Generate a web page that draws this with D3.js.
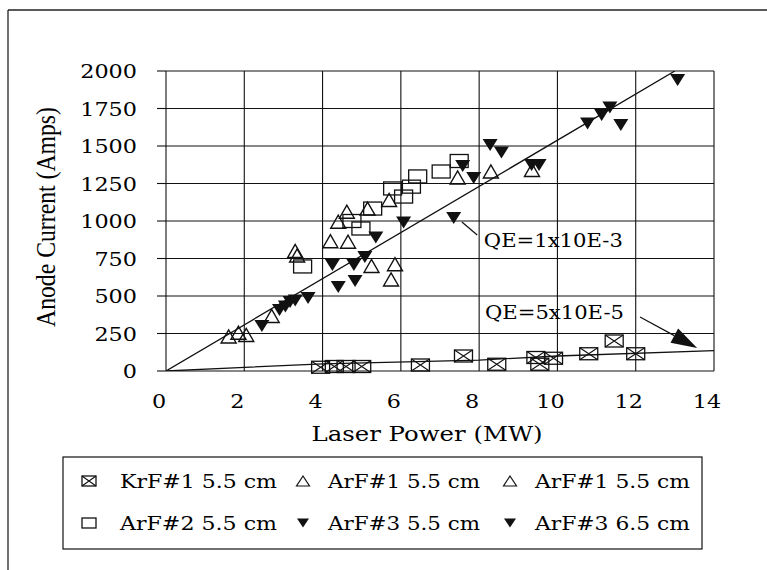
<!DOCTYPE html>
<html><head><meta charset="utf-8">
<script src="https://cdn.jsdelivr.net/npm/d3@7"></script>
<style>body{margin:0;background:#fff} svg{display:block}</style>
</head><body>
<svg id="c" width="767" height="570"></svg>
<script>
// ---- data ----
const xTicks = [0, 2, 4, 6, 8, 10, 12, 14];
const yTicks = [0, 250, 500, 750, 1000, 1250, 1500, 1750, 2000];

const krf1X = [3.95, 4.3, 4.6, 5.0, 6.5, 7.6, 8.45, 9.45, 9.55, 9.9, 10.8, 11.45, 12.0];
const krf1Y = [25, 30, 30, 30, 40, 100, 45, 90, 45, 85, 115, 200, 115];

const arf1aX = [1.6, 2.05, 2.7, 3.3, 4.2, 4.4, 5.15, 5.25, 5.75, 7.45, 9.35];
const arf1aY = [230, 240, 367, 800, 865, 995, 1083, 700, 610, 1290, 1340];

const arf1bX = [1.85, 3.35, 4.65, 4.62, 5.7, 5.85, 8.3];
const arf1bY = [255, 770, 862, 1062, 1140, 712, 1330];

const arf2X = [3.49, 4.75, 4.98, 5.28, 5.79, 6.07, 6.27, 6.43, 7.03, 7.49];
const arf2Y = [697, 1000, 950, 1083, 1217, 1163, 1229, 1297, 1330, 1400];

const arf3aX = [2.45, 2.9, 3.05, 3.17, 3.3, 3.63, 4.25, 4.4, 4.83, 4.8, 5.08, 5.36, 6.07];
const arf3aY = [300, 407, 430, 460, 470, 487, 707, 560, 600, 707, 760, 890, 990];

const arf3bX = [7.35, 7.58, 7.86, 8.28, 8.57, 9.34, 9.53, 10.77, 11.13, 11.34, 11.62, 13.07];
const arf3bY = [1020, 1367, 1287, 1507, 1457, 1373, 1373, 1650, 1707, 1757, 1640, 1940];

const qeHighX = [0, 13];
const qeHighY = [0, 2000];
const qeLowX = [0, 4, 8, 10, 14];
const qeLowY = [0, 48, 73, 100, 136];

const legendLabels = ["KrF#1 5.5 cm", "ArF#1 5.5 cm", "ArF#1 5.5 cm",
                      "ArF#2 5.5 cm", "ArF#3 5.5 cm", "ArF#3 6.5 cm"];
const annotTexts = ["QE=1x10E-3", "QE=5x10E-5"];

// ---- drawing ----
const svg = d3.select("#c");
const x = d3.scaleLinear().domain([0, 14]).range([166, 714]);
const y = d3.scaleLinear().domain([0, 2000]).range([371, 71]);
const SERIF = "'DejaVu Serif', serif";
const TIMES = "'Liberation Serif', 'Times New Roman', serif";

svg.append("rect").attr("width", 767).attr("height", 570).attr("fill", "#fff");

// outer frame (top & left)
svg.append("line").attr("x1", 8).attr("y1", 10).attr("x2", 767).attr("y2", 10)
  .attr("stroke", "#222").attr("stroke-width", 1.3);
svg.append("line").attr("x1", 8).attr("y1", 10).attr("x2", 8).attr("y2", 570)
  .attr("stroke", "#222").attr("stroke-width", 1.3);

// grid
const g = svg.append("g");
g.selectAll(".vg").data(xTicks).join("line")
  .attr("x1", d => x(d)).attr("x2", d => x(d)).attr("y1", y(2000)).attr("y2", y(0))
  .attr("stroke", "#111").attr("stroke-width", 1.1);
g.selectAll(".hg").data(yTicks).join("line")
  .attr("x1", x(0)).attr("x2", x(14)).attr("y1", d => y(d)).attr("y2", d => y(d))
  .attr("stroke", "#111").attr("stroke-width", 1.1);
// y ticks outside
g.selectAll(".yt").data(yTicks).join("line")
  .attr("x1", x(0) - 9).attr("x2", x(0)).attr("y1", d => y(d)).attr("y2", d => y(d))
  .attr("stroke", "#111").attr("stroke-width", 1.1);

// tick labels
svg.selectAll(".ylab").data(yTicks).join("text")
  .attr("x", 137).attr("y", d => y(d) + 7)
  .attr("text-anchor", "end").attr("font-family", SERIF).attr("font-size", 19)
  .attr("textLength", d => String(d).length * 14.2).attr("lengthAdjust", "spacingAndGlyphs")
  .text(d => d);
svg.selectAll(".xlab").data(xTicks).join("text")
  .attr("x", d => x(d) - 7).attr("y", 408)
  .attr("text-anchor", "middle").attr("font-family", SERIF).attr("font-size", 19)
  .attr("textLength", d => String(d).length * 14.2).attr("lengthAdjust", "spacingAndGlyphs")
  .text(d => d);

// axis titles
svg.append("text").attr("x", 427).attr("y", 441).attr("text-anchor", "middle")
  .attr("font-family", SERIF).attr("font-size", 21)
  .attr("textLength", 231).attr("lengthAdjust", "spacingAndGlyphs")
  .text("Laser Power (MW)");
svg.append("text").attr("transform", "translate(55,217) rotate(-90)")
  .attr("text-anchor", "middle").attr("font-family", TIMES).attr("font-size", 27)
  .attr("textLength", 220).attr("lengthAdjust", "spacingAndGlyphs")
  .text("Anode Current (Amps)");

// clip
svg.append("clipPath").attr("id", "clip").append("rect")
  .attr("x", x(0)).attr("y", y(2000)).attr("width", x(14) - x(0)).attr("height", y(0) - y(2000));

// QE lines
const lineGen = d3.line().x(d => x(d[0])).y(d => y(d[1]));
svg.append("path").attr("clip-path", "url(#clip)")
  .attr("d", lineGen(d3.zip(qeHighX, qeHighY))).attr("fill", "none")
  .attr("stroke", "#111").attr("stroke-width", 1.3);
svg.append("path").attr("clip-path", "url(#clip)")
  .attr("d", lineGen(d3.zip(qeLowX, qeLowY))).attr("fill", "none")
  .attr("stroke", "#111").attr("stroke-width", 1.3);

// marker shapes
function triUp(cx, cy, w, h) {
  return `M${cx - w / 2},${cy + h / 2}L${cx + w / 2},${cy + h / 2}L${cx},${cy - h / 2}Z`;
}
function triDown(cx, cy, w, h) {
  return `M${cx - w / 2},${cy - h / 2}L${cx + w / 2},${cy - h / 2}L${cx},${cy + h / 2}Z`;
}
function boxX(sel, cx, cy, w, h) {
  sel.append("rect").attr("x", cx - w / 2).attr("y", cy - h / 2).attr("width", w).attr("height", h)
    .attr("fill", "none").attr("stroke", "#111").attr("stroke-width", 1.3);
  sel.append("path").attr("d", `M${cx - w / 2},${cy - h / 2}L${cx + w / 2},${cy + h / 2}M${cx + w / 2},${cy - h / 2}L${cx - w / 2},${cy + h / 2}`)
    .attr("stroke", "#111").attr("stroke-width", 1.1);
}
function box(sel, cx, cy, w, h) {
  sel.append("rect").attr("x", cx - w / 2).attr("y", cy - h / 2).attr("width", w).attr("height", h)
    .attr("fill", "none").attr("stroke", "#111").attr("stroke-width", 1.3);
}

const pts = svg.append("g");
// KrF#1
d3.zip(krf1X, krf1Y).forEach(d => boxX(pts, x(d[0]), y(d[1]), 18, 12));
// ArF#2 squares
d3.zip(arf2X, arf2Y).forEach(d => box(pts, x(d[0]), y(d[1]), 18, 13));
// ArF#1 open triangles
pts.selectAll(".ta").data(d3.zip(arf1aX, arf1aY)).join("path")
  .attr("d", d => triUp(x(d[0]), y(d[1]), 15, 13)).attr("fill", "none")
  .attr("stroke", "#111").attr("stroke-width", 1.4);
pts.selectAll(".tb").data(d3.zip(arf1bX, arf1bY)).join("path")
  .attr("d", d => triUp(x(d[0]), y(d[1]), 15, 13)).attr("fill", "none")
  .attr("stroke", "#111").attr("stroke-width", 1.4);
// ArF#3 filled down triangles
pts.selectAll(".fa").data(d3.zip(arf3aX, arf3aY)).join("path")
  .attr("d", d => triDown(x(d[0]), y(d[1]), 15, 12)).attr("fill", "#111");
pts.selectAll(".fb").data(d3.zip(arf3bX, arf3bY)).join("path")
  .attr("d", d => triDown(x(d[0]), y(d[1]), 15, 12)).attr("fill", "#111");

// annotations
svg.append("text").attr("x", x(8.12)).attr("y", y(827))
  .attr("font-family", SERIF).attr("font-size", 19)
  .attr("textLength", 139).attr("lengthAdjust", "spacingAndGlyphs").text(annotTexts[0]);
svg.append("text").attr("x", x(8.15)).attr("y", y(347))
  .attr("font-family", SERIF).attr("font-size", 19)
  .attr("textLength", 139).attr("lengthAdjust", "spacingAndGlyphs").text(annotTexts[1]);
svg.append("line").attr("x1", x(7.95)).attr("y1", y(907)).attr("x2", x(7.56)).attr("y2", y(993))
  .attr("stroke", "#111").attr("stroke-width", 1.2);
{
  const x1 = x(12.11), y1 = y(360), x2 = x(13.57), y2 = y(153);
  const ang = Math.atan2(y2 - y1, x2 - x1), L = 26, W = 8;
  const bx = x2 - L * Math.cos(ang), by = y2 - L * Math.sin(ang);
  svg.append("line").attr("x1", x1).attr("y1", y1).attr("x2", bx).attr("y2", by)
    .attr("stroke", "#111").attr("stroke-width", 1.2);
  svg.append("path").attr("d",
    `M${x2},${y2}L${bx + W * Math.sin(ang)},${by - W * Math.cos(ang)}L${bx - W * Math.sin(ang)},${by + W * Math.cos(ang)}Z`)
    .attr("fill", "#111");
}

// legend
svg.append("rect").attr("x", 63).attr("y", 457).attr("width", 639).attr("height", 92)
  .attr("fill", "none").attr("stroke", "#111").attr("stroke-width", 1.2);
const colSym = [89, 303, 510], colTxt = [120, 328, 535], colW = [157, 152, 155];
const rowY = [481, 523];
legendLabels.forEach((lab, i) => {
  const r = Math.floor(i / 3), c = i % 3;
  const cx = colSym[c], cy = rowY[r];
  const lg = svg.append("g");
  if (i === 0) boxX(lg, cx, cy, 14, 10);
  else if (i === 3) box(lg, cx, cy, 14, 10);
  else if (i === 1 || i === 2) lg.append("path").attr("d", triUp(cx, cy, 13, 10)).attr("fill", "none").attr("stroke", "#111").attr("stroke-width", 1.2);
  else lg.append("path").attr("d", triDown(cx, cy, 12, 9)).attr("fill", "#111");
  svg.append("text").attr("x", colTxt[c]).attr("y", cy + 7)
    .attr("font-family", SERIF).attr("font-size", 19)
    .attr("textLength", colW[c]).attr("lengthAdjust", "spacingAndGlyphs").text(lab);
});
</script>
</body></html>
